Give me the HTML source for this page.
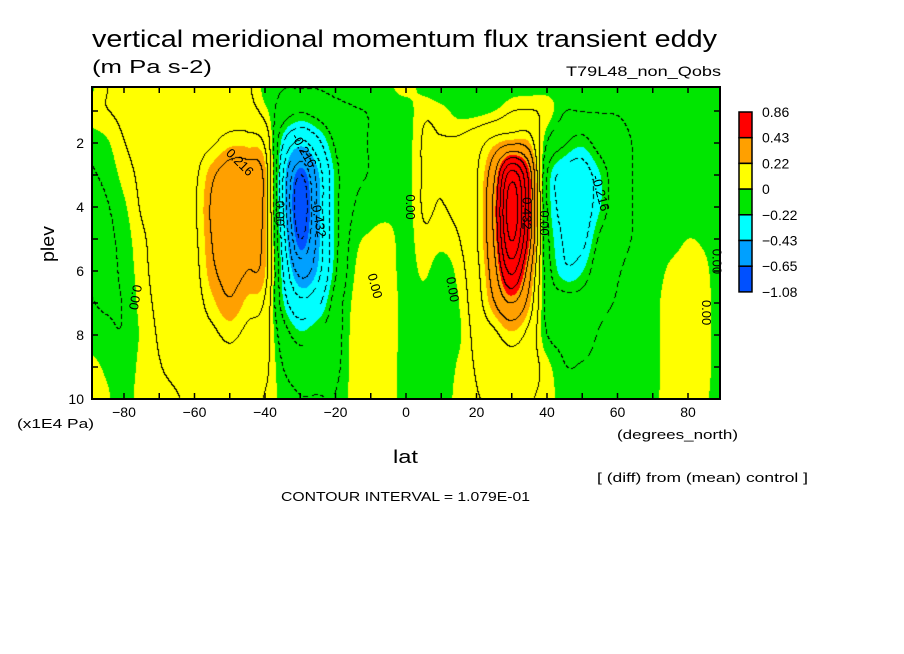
<!DOCTYPE html>
<html><head><meta charset="utf-8"><style>
html,body{margin:0;padding:0;background:#fff;}
#wrap{position:relative;width:904px;height:654px;overflow:hidden;font-family:"Liberation Sans",sans-serif;}
canvas{position:absolute;left:92px;top:87px;}
svg{position:absolute;left:0;top:0;}
text{font-family:"Liberation Sans",sans-serif;fill:#000;}
</style></head><body>
<div id="wrap">
<canvas id="cv" width="628" height="312"></canvas>
<svg id="sv" width="904" height="654"></svg>
</div>
<script>
// ---- data ----
const lats = [-90,-85,-80,-75,-70,-65,-60,-55,-50,-45,-40,-35,-30,-25,-20,-15,-10,-5,0,5,10,15,20,25,30,35,40,45,50,55,60,65,70,75,80,85,90];
const plevs = [0.25,1,2,3,4,5,6,7,8,9,10];
const field = [
[-0.02,0.03,-0.04,-0.06,-0.06,-0.06,-0.06,-0.05,-0.03,0.02,0.03],
[0.05,0.05,-0.01,-0.04,-0.06,-0.07,-0.07,-0.06,-0.04,-0.01,0.01],
[0.06,0.07,0.05,0.02,-0.01,-0.03,-0.04,-0.05,-0.05,-0.04,-0.03],
[0.06,0.08,0.08,0.07,0.06,0.04,0.03,0.02,0.01,0.02,0.03],
[0.06,0.09,0.09,0.09,0.09,0.08,0.08,0.07,0.06,0.05,0.04],
[0.07,0.1,0.1,0.1,0.1,0.1,0.1,0.09,0.08,0.07,0.05],
[0.08,0.1,0.12,0.14,0.15,0.14,0.13,0.12,0.11,0.1,0.07],
[0.08,0.1,0.15,0.25,0.28,0.27,0.25,0.2,0.14,0.1,0.07],
[0.08,0.1,0.2,0.32,0.34,0.32,0.3,0.26,0.18,0.12,0.08],
[0.07,0.1,0.2,0.32,0.33,0.3,0.27,0.2,0.14,0.1,0.07],
[-0.02,0.02,0.15,0.24,0.24,0.23,0.22,0.15,0.1,0.08,0.05],
[-0.05,-0.1,-0.25,-0.35,-0.35,-0.3,-0.25,-0.2,-0.1,-0.05,-0.02],
[-0.05,-0.15,-0.4,-0.7,-0.78,-0.7,-0.52,-0.35,-0.2,-0.1,-0.05],
[-0.05,-0.12,-0.3,-0.45,-0.47,-0.46,-0.42,-0.3,-0.15,-0.1,-0.05],
[-0.04,-0.08,-0.15,-0.2,-0.2,-0.2,-0.18,-0.12,-0.1,-0.08,-0.05],
[-0.03,-0.06,-0.08,-0.08,-0.06,-0.03,-0.01,0.01,0.02,0.02,0.02],
[-0.02,-0.05,-0.05,-0.05,-0.03,0.01,0.04,0.05,0.05,0.05,0.04],
[-0.01,-0.03,-0.03,-0.03,-0.02,0.02,0.03,0.04,0.04,0.03,0.03],
[0.02,-0.03,-0.03,-0.03,-0.03,-0.03,-0.03,-0.03,-0.03,-0.03,-0.03],
[-0.02,0.04,0.06,0.06,0.06,0.04,0.01,-0.02,-0.03,-0.03,-0.02],
[-0.05,0.02,0.06,0.06,0.05,0.02,-0.03,-0.05,-0.05,-0.04,-0.03],
[-0.05,-0.02,0.07,0.08,0.08,0.05,0.02,0.0,-0.01,0.01,0.02],
[-0.04,-0.02,0.12,0.15,0.15,0.15,0.13,0.11,0.08,0.06,0.05],
[-0.03,0.0,0.2,0.35,0.4,0.38,0.33,0.26,0.14,0.1,0.06],
[-0.02,0.05,0.25,0.75,0.88,0.82,0.62,0.38,0.2,0.12,0.07],
[-0.02,0.06,0.22,0.45,0.48,0.44,0.32,0.23,0.13,0.1,0.06],
[-0.02,0.03,-0.05,-0.15,-0.15,-0.12,-0.1,-0.08,-0.05,0.02,0.03],
[-0.03,-0.05,-0.15,-0.3,-0.3,-0.28,-0.25,-0.12,-0.08,-0.05,-0.03],
[-0.03,-0.05,-0.2,-0.32,-0.33,-0.3,-0.22,-0.12,-0.08,-0.05,-0.03],
[-0.03,-0.05,-0.12,-0.22,-0.22,-0.15,-0.1,-0.07,-0.05,-0.04,-0.03],
[-0.03,-0.05,-0.08,-0.1,-0.1,-0.08,-0.06,-0.05,-0.04,-0.03,-0.02],
[-0.03,-0.04,-0.05,-0.05,-0.05,-0.05,-0.04,-0.03,-0.03,-0.02,-0.02],
[-0.03,-0.03,-0.04,-0.04,-0.04,-0.04,-0.03,-0.02,-0.02,-0.02,-0.01],
[-0.03,-0.03,-0.03,-0.03,-0.03,-0.02,0.01,0.03,0.03,0.03,0.02],
[-0.03,-0.03,-0.03,-0.03,-0.02,0.0,0.02,0.04,0.04,0.04,0.03],
[-0.03,-0.03,-0.03,-0.03,-0.02,-0.01,0.01,0.02,0.02,0.02,0.01],
[-0.04,-0.04,-0.04,-0.04,-0.04,-0.05,-0.05,-0.05,-0.05,-0.05,-0.05]
];
const xTicks = [-80,-60,-40,-20,0,20,40,60,80];
const yTicks = [2,4,6,8,10];
const legendLabels = ["0.86","0.43","0.22","0","\u22120.22","\u22120.43","\u22120.65","\u22121.08"];
const legendColors = ["#ff0000","#ffa000","#ffff00","#00e600","#00ffff","#00a0ff","#0050ff"];
const shadeBreaks = [0.432,0.216,0,-0.216,-0.432,-0.648];
const cint = 0.1079;

// ---- axes ----
const X = lat => 406 + lat*3.525;
const Y = p => 143 + (p-2)*32;
const PX0 = 92, PY0 = 87, PW = 628, PH = 312;

function cr(p0,p1,p2,p3,t){
  return 0.5*((2*p1)+(-p0+p2)*t+(2*p0-5*p1+4*p2-p3)*t*t+(-p0+3*p1-3*p2+p3)*t*t*t);
}
function g(i,j){i=Math.max(0,Math.min(lats.length-1,i));j=Math.max(0,Math.min(plevs.length-1,j));return field[i][j];}
function sample(lat,p){
  let fi = (lat - lats[0])/(lats[1]-lats[0]);
  fi = Math.max(0,Math.min(lats.length-1.0001,fi));
  const i = Math.floor(fi), tx = fi-i;
  let j=0; while(j<plevs.length-2 && p>plevs[j+1]) j++;
  let ty = (p-plevs[j])/(plevs[j+1]-plevs[j]); ty=Math.max(0,Math.min(1,ty));
  const r=[];
  for(let dj=-1;dj<=2;dj++){
    r.push(cr(g(i-1,j+dj),g(i,j+dj),g(i+1,j+dj),g(i+2,j+dj),tx));
  }
  return cr(r[0],r[1],r[2],r[3],ty);
}
function hex(h){return [parseInt(h.substr(1,2),16),parseInt(h.substr(3,2),16),parseInt(h.substr(5,2),16)];}
const cols = legendColors.map(hex);
function shadeIdx(v){for(let k=0;k<shadeBreaks.length;k++){if(v>shadeBreaks[k])return k;}return shadeBreaks.length;}

const cv=document.getElementById('cv'), ctx=cv.getContext('2d');
const img=ctx.createImageData(PW,PH);
const V=new Float32Array(PW*PH);
for(let py=0;py<PH;py++){for(let px=0;px<PW;px++){
  const lat=(PX0+px+0.5-406)/3.525, p=2+(PY0+py+0.5-143)/32;
  V[py*PW+px]=sample(lat,p);
}}
for(let py=0;py<PH;py++){for(let px=0;px<PW;px++){
  const v=V[py*PW+px]; const c=cols[shadeIdx(v)]; const o=(py*PW+px)*4;
  img.data[o]=c[0];img.data[o+1]=c[1];img.data[o+2]=c[2];img.data[o+3]=255;
}}
// contour lines
function lvl(v){return Math.floor(v/cint+0.5);}
for(let py=0;py<PH-1;py++){for(let px=0;px<PW-1;px++){
  const v=V[py*PW+px], l=lvl(v), lr=lvl(V[py*PW+px+1]), ld=lvl(V[(py+1)*PW+px]);
  if(l!==lr||l!==ld){
    const zero=(Math.sign(v)!==Math.sign(V[py*PW+px+1])||Math.sign(v)!==Math.sign(V[(py+1)*PW+px]));
    const neg=v<0 && !zero;
    if(neg && ((px+py)%8)>4) continue;
    const pts=zero?[[0,0],[1,0],[0,1]]:[[0,0]];
    pts.forEach(q=>{const xx=px+q[0],yy=py+q[1];const o=(yy*PW+xx)*4;img.data[o]=0;img.data[o+1]=0;img.data[o+2]=0;});
  }
}}
ctx.putImageData(img,0,0);

// ---- svg overlay ----
const NS="http://www.w3.org/2000/svg", sv=document.getElementById('sv');
function add(tag,attrs,txt){const e=document.createElementNS(NS,tag);for(const k in attrs)e.setAttribute(k,attrs[k]);if(txt!==undefined)e.textContent=txt;sv.appendChild(e);return e;}
let e;
e=add('rect',{x:PX0,y:PY0,width:PW,height:PH,fill:'none',stroke:'#000','stroke-width':2});


for(let lat=-80;lat<=80;lat+=10){
  const x=X(lat);
  e=add('line',{x1:x,y1:399,x2:x,y2:393,stroke:'#000','stroke-width':1.5});
  
  
  e=add('line',{x1:x,y1:87,x2:x,y2:93,stroke:'#000','stroke-width':1.5});
  
  
}
for(let p=1;p<=9;p++){
  const y=Y(p);
  e=add('line',{x1:92,y1:y,x2:98,y2:y,stroke:'#000','stroke-width':1.5});
  
  
  e=add('line',{x1:720,y1:y,x2:714,y2:y,stroke:'#000','stroke-width':1.5});
  
  
}
xTicks.forEach(t=>{
  e=add('text',{x:X(t),y:417,'font-size':14,'text-anchor':'middle'},t===0?'0':String(t).replace('-','\u2212'));
  
  
});
yTicks.forEach(t=>{
  e=add('text',{x:84,y:Y(t)+5,'font-size':14,'text-anchor':'end'},String(t));
  
  
});
// legend
legendColors.forEach((c,i)=>{
  e=add('rect',{x:739,y:112+i*25.7,width:13,height:25.7,fill:c,stroke:'#000','stroke-width':1.5});
  
  
});
legendLabels.forEach((s,i)=>{
  e=add('text',{x:762,y:117+i*25.7,'font-size':14},s);
  
  
});
const texts=[
 ['chart-title',92,47,24,'vertical meridional momentum flux transient eddy',625],
 ['units-subtitle',92,73,18,'(m Pa s-2)',120],
 ['experiment-label',566,76,14,'T79L48_non_Qobs',155],
 ['y-units-label',17,428,13,'(x1E4 Pa)',77],
 ['x-units-label',617,439,13,'(degrees_north)',121],
 ['x-axis-title',393,463,18,'lat',25],
 ['diff-note',597,482,13,'[ (diff) from (mean) control ]',211],
 ['contour-interval',281,501,13,'CONTOUR INTERVAL = 1.079E-01',249]
];
texts.forEach(t=>{
  e=add('text',{x:t[1],y:t[2],'font-size':t[3],textLength:t[5],lengthAdjust:'spacingAndGlyphs'},t[4]);
  
  
});
e=add('text',{x:0,y:0,'font-size':18,transform:'translate(54,262) rotate(-90)',textLength:36,lengthAdjust:'spacingAndGlyphs'},'plev');


// contour labels
const clabels=[[-48,2.7,'0.216',45],[-30,2.3,'-0.216',60],[-26,4.4,'-0.432',80],[-37,4.2,'0.00',90],[-78,6.8,'0.00',100],[-10,6.5,'0.00',75],[0,4.0,'0.00',90],[12,6.6,'0.00',80],[33,4.2,'0.432',90],[38,4.5,'0.00',90],[54,3.6,'-0.216',75],[84,7.3,'0.00',90],[87,5.7,'0.00',90]];
clabels.forEach(c=>{
  e=add('text',{x:0,y:0,'font-size':13,transform:`translate(${X(c[0])},${Y(c[1])}) rotate(${c[3]})`,'text-anchor':'middle'},c[2]);
  
  
});
</script>
</body></html>
